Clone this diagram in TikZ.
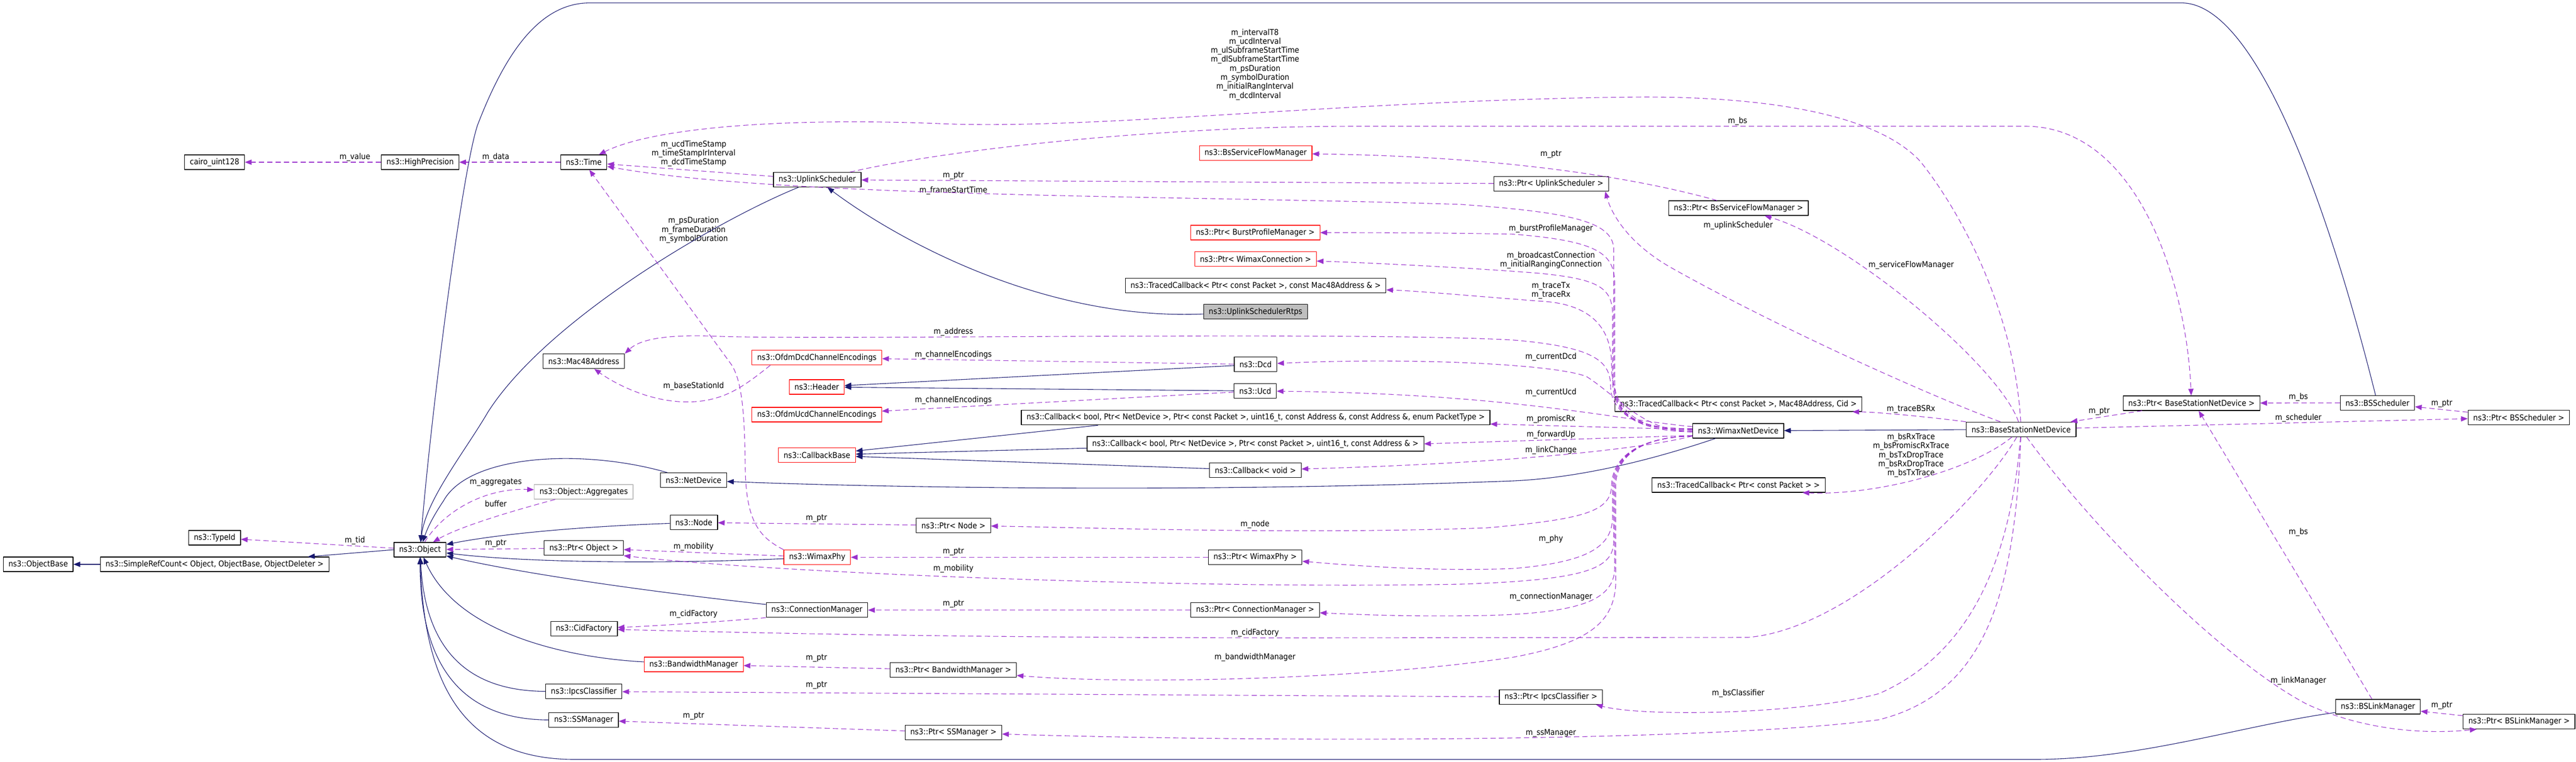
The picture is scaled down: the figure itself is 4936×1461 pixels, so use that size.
\documentclass[tikz,border=0pt]{standalone}
\usepackage{fontspec}
\setmainfont{DejaVu Sans}[FakeStretch=0.9]
\usetikzlibrary{arrows.meta}
\definecolor{dgnavy}{HTML}{191970}
\definecolor{dgpurple}{HTML}{9A32CD}
\definecolor{dgred}{HTML}{FF0000}
\definecolor{dggrey}{HTML}{BFBFBF}
\newcommand{\dgfont}{\fontsize{7.75pt}{8.65pt}\selectfont}

\begin{document}
\begin{tikzpicture}[x=0.5pt,y=-0.5pt,>={Triangle[length=6.5pt,width=5pt]},line join=bevel,
  cls/.style={draw=black,fill=white,line width=0.6pt,inner xsep=5pt,inner ysep=0pt,minimum height=14pt,font=\dgfont},
  redcls/.style={cls,draw=dgred},
  greycls/.style={cls,draw=dggrey},
  curcls/.style={cls,fill=dggrey},
  lbl/.style={font=\dgfont,inner sep=0pt,align=center},
  inh/.style={->,draw=dgnavy,line width=0.55pt},
  use/.style={->,draw=dgpurple,line width=0.55pt,dash pattern=on 5pt off 3pt}]
\useasboundingbox (0,0) rectangle (4936,1461);
%%
\node (cairo) at (411.2,311) [cls] {cairo\_uint128};
  \node (hp) at (805,311) [cls] {ns3::HighPrecision};
  \node (time) at (1118.6,311) [cls] {ns3::Time};
  \node (ulsched) at (1565.9,344.6) [cls] {ns3::UplinkScheduler};
  \node (typeid) at (411.2,1031) [cls] {ns3::TypeId};
  \node (objbase) at (73.2,1082) [cls] {ns3::ObjectBase};
  \node (refcount) at (411.2,1082) [cls] {ns3::SimpleRefCount< Object, ObjectBase, ObjectDeleter >};
  \node (object) at (804.8,1054) [cls] {ns3::Object};
  \node (mac48) at (1118.6,692.6) [cls] {ns3::Mac48Address};
  \node (dcdenc) at (1565.2,685.8) [redcls] {ns3::OfdmDcdChannelEncodings};
  \node (header) at (1565,742) [redcls] {ns3::Header};
  \node (ucdenc) at (1565,795) [redcls] {ns3::OfdmUcdChannelEncodings};
  \node (cbbase) at (1565.4,872.6) [redcls] {ns3::CallbackBase};
  \node (netdev) at (1329,920.7) [cls] {ns3::NetDevice};
  \node (aggr) at (1118.4,943) [greycls] {ns3::Object::Aggregates};
  \node (nsnode) at (1329.5,1001.8) [cls] {ns3::Node};
  \node (ptrobj) at (1118.6,1050.8) [cls] {ns3::Ptr< Object >};
  \node (phy) at (1565.9,1068.5) [redcls] {ns3::WimaxPhy};
  \node (connmgr) at (1565.4,1169.7) [cls] {ns3::ConnectionManager};
  \node (cidf) at (1119,1205.5) [cls] {ns3::CidFactory};
  \node (bwmgr) at (1329.2,1274) [redcls] {ns3::BandwidthManager};
  \node (ipcs) at (1118.7,1325.8) [cls] {ns3::IpcsClassifier};
  \node (ssmgr) at (1118.4,1380.4) [cls] {ns3::SSManager};
  \node (bsflow) at (2406,293.7) [redcls] {ns3::BsServiceFlowManager};
  \node (ptrburst) at (2405.3,446) [redcls] {ns3::Ptr< BurstProfileManager >};
  \node (ptrconn) at (2405.8,496.8) [redcls] {ns3::Ptr< WimaxConnection >};
  \node (tcmac) at (2406,547.3) [cls] {ns3::TracedCallback< Ptr< const Packet >, const Mac48Address \& >};
  \node (rtps) at (2405.8,597.8) [curcls] {ns3::UplinkSchedulerRtps};
  \node (dcd) at (2405.8,698.8) [cls] {ns3::Dcd};
  \node (ucd) at (2405.2,749.6) [cls] {ns3::Ucd};
  \node (cb1) at (2406,800.8) [cls] {ns3::Callback< bool, Ptr< NetDevice >, Ptr< const Packet >, uint16\_t, const Address \&, const Address \&, enum PacketType >};
  \node (cb2) at (2405.5,851) [cls] {ns3::Callback< bool, Ptr< NetDevice >, Ptr< const Packet >, uint16\_t, const Address \& >};
  \node (cbvoid) at (2405.5,901.6) [cls] {ns3::Callback< void >};
  \node (ptrnode) at (1826.9,1007.4) [cls] {ns3::Ptr< Node >};
  \node (ptrphy) at (2405,1068.5) [cls] {ns3::Ptr< WimaxPhy >};
  \node (ptrconnmgr) at (2405,1169.7) [cls] {ns3::Ptr< ConnectionManager >};
  \node (ptrbw) at (1826.6,1284.8) [cls] {ns3::Ptr< BandwidthManager >};
  \node (ptrss) at (1826.9,1404.6) [cls] {ns3::Ptr< SSManager >};
  \node (ptrulsched) at (2972.3,352.4) [cls] {ns3::Ptr< UplinkScheduler >};
  \node (ptrbsflow) at (3331.2,399) [cls] {ns3::Ptr< BsServiceFlowManager >};
  \node (tccid) at (3331.2,775) [cls] {ns3::TracedCallback< Ptr< const Packet >, Mac48Address, Cid >};
  \node (wnd) at (3330.7,826) [cls] {ns3::WimaxNetDevice};
  \node (tcpkt) at (3331.4,930) [cls] {ns3::TracedCallback< Ptr< const Packet > >};
  \node (ptripcs) at (2971.8,1336.5) [cls] {ns3::Ptr< IpcsClassifier >};
  \node (ptrbs) at (4199.2,773) [cls] {ns3::Ptr< BaseStationNetDevice >};
  \node (bs) at (3872.8,823.3) [cls] {ns3::BaseStationNetDevice};
  \node (bssched) at (4555.5,772.4) [cls] {ns3::BSScheduler};
  \node (ptrbssched) at (4826.3,800.4) [cls] {ns3::Ptr< BSScheduler >};
  \node (bslink) at (4556.5,1355) [cls] {ns3::BSLinkManager};
  \node (ptrbslink) at (4826.8,1383.6) [cls] {ns3::Ptr< BSLinkManager >};
%
  \node (l_value) at (680,301) [lbl] {m\_value};
  \node (l_data) at (950,301) [lbl] {m\_data};
  \node (l_tid) at (680,1036) [lbl] {m\_tid};
  \node (l_aggr) at (950,925) [lbl] {m\_aggregates};
  \node (l_buffer) at (950,966) [lbl] {buffer};
  \node (l_objptr) at (950,1042) [lbl] {m\_ptr};
  \node (l_phymob) at (1329,1048.4) [lbl] {m\_mobility};
  \node (l_ulstamp) at (1329,294.3) [lbl] {m\_ucdTimeStamp\\m\_timeStampIrInterval\\m\_dcdTimeStamp};
  \node (l_phydur) at (1329,441) [lbl] {m\_psDuration\\m\_frameDuration\\m\_symbolDuration};
  \node (l_bsid) at (1329,740) [lbl] {m\_baseStationId};
  \node (l_cmcid) at (1329,1177) [lbl] {m\_cidFactory};
  \node (l_ssptr) at (1329,1372.4) [lbl] {m\_ptr};
  \node (l_nodeptr) at (1564.5,994) [lbl] {m\_ptr};
  \node (l_bwptr) at (1564.5,1262) [lbl] {m\_ptr};
  \node (l_ipcsptr) at (1564.5,1313.7) [lbl] {m\_ptr};
  \node (l_ulptr) at (1826.8,337) [lbl] {m\_ptr};
  \node (l_frame) at (1826.8,365) [lbl] {m\_frameStartTime};
  \node (l_address) at (1826.8,636) [lbl] {m\_address};
  \node (l_dcdenc) at (1826.8,680) [lbl] {m\_channelEncodings};
  \node (l_ucdenc) at (1826.8,767.8) [lbl] {m\_channelEncodings};
  \node (l_phyptr) at (1826.8,1058) [lbl] {m\_ptr};
  \node (l_wndmob) at (1826.8,1090) [lbl] {m\_mobility};
  \node (l_cmptr) at (1826.8,1158) [lbl] {m\_ptr};
  \node (l_bstime) at (2404.7,123.5) [lbl] {m\_intervalT8\\m\_ucdInterval\\m\_ulSubframeStartTime\\m\_dlSubframeStartTime\\m\_psDuration\\m\_symbolDuration\\m\_initialRangInterval\\m\_dcdInterval};
  \node (l_node) at (2404.7,1005) [lbl] {m\_node};
  \node (l_bscid) at (2404.7,1213) [lbl] {m\_cidFactory};
  \node (l_bw) at (2404.7,1260) [lbl] {m\_bandwidthManager};
  \node (l_flowptr) at (2971.8,296) [lbl] {m\_ptr};
  \node (l_burst) at (2971.8,438) [lbl] {m\_burstProfileManager};
  \node (l_conn) at (2971.8,498.7) [lbl] {m\_broadcastConnection\\m\_initialRangingConnection};
  \node (l_trace) at (2971.8,557) [lbl] {m\_traceTx\\m\_traceRx};
  \node (l_dcd) at (2971.8,684) [lbl] {m\_currentDcd};
  \node (l_ucd) at (2971.8,752) [lbl] {m\_currentUcd};
  \node (l_promisc) at (2971.8,803.7) [lbl] {m\_promiscRx};
  \node (l_fwd) at (2971.8,833) [lbl] {m\_forwardUp};
  \node (l_link) at (2971.8,863.8) [lbl] {m\_linkChange};
  \node (l_phy) at (2971.8,1033.5) [lbl] {m\_phy};
  \node (l_cm) at (2971.8,1144) [lbl] {m\_connectionManager};
  \node (l_ss) at (2971.8,1406) [lbl] {m\_ssManager};
  \node (l_ulbs) at (3329.5,232.8) [lbl] {m\_bs};
  \node (l_ulsch) at (3330.6,432) [lbl] {m\_uplinkScheduler};
  \node (l_classif) at (3330.6,1329) [lbl] {m\_bsClassifier};
  \node (l_flow) at (3662,508) [lbl] {m\_serviceFlowManager};
  \node (l_bsrx) at (3661.8,785) [lbl] {m\_traceBSRx};
  \node (l_bstrace) at (3661.8,873) [lbl] {m\_bsRxTrace\\m\_bsPromiscRxTrace\\m\_bsTxDropTrace\\m\_bsRxDropTrace\\m\_bsTxTrace};
  \node (l_bsptr) at (4022.3,789) [lbl] {m\_ptr};
  \node (l_schbs) at (4404,761.7) [lbl] {m\_bs};
  \node (l_sched) at (4404,801) [lbl] {m\_scheduler};
  \node (l_linkbs) at (4404,1020) [lbl] {m\_bs};
  \node (l_linkmgr) at (4404,1305) [lbl] {m\_linkManager};
  \node (l_schptr) at (4678.8,774.3) [lbl] {m\_ptr};
  \node (l_linkptr) at (4678.8,1353) [lbl] {m\_ptr};
%
  \draw [inh] (refcount) -- (objbase);
  \draw [inh] (object.west) -- (refcount);
  \draw [inh] (ulsched) .. controls (1380,420) and (1050,610) .. (935,790) .. controls (890,867) and (815,960) .. (object);
  \draw [inh] (bssched) .. controls (4500,550) and (4350,5.6) .. (4180,5.6) -- (1130,5.6) .. controls (1030,5.6) and (965,110) .. (915,240) .. controls (885,330) and (825,800) .. (object);
  \draw [inh] (rtps) .. controls (2000,615) and (1720,460) .. (ulsched);
  \draw [inh] (netdev) .. controls (1120,860) and (900,870) .. (850,960) .. controls (830,990) and (820,1010) .. (object);
  \draw [inh] (nsnode) .. controls (1100,1010) and (950,1025) .. (object);
  \draw [inh] (phy) .. controls (1250,1082) and (1000,1078) .. (object);
  \draw [inh] (connmgr) .. controls (1250,1135) and (1000,1100) .. (object);
  \draw [inh] (bwmgr) .. controls (1100,1262) and (880,1220) .. (object);
  \draw [inh] (ipcs) .. controls (900,1325) and (815,1250) .. (object);
  \draw [inh] (ssmgr) .. controls (880,1380) and (805,1270) .. (object);
  \draw [inh] (bslink) .. controls (4300,1390) and (4100,1456) .. (3900,1456) -- (1100,1456) .. controls (880,1456) and (812,1300) .. (object);
  \draw [inh] (dcd) -- (header);
  \draw [inh] (ucd) -- (header);
  \draw [inh] ([xshift=73.8pt]cb1.south west) -- (cbbase);
  \draw [inh] (cb2) -- (cbbase);
  \draw [inh] (cbvoid) -- (cbbase);
  \draw [inh] (wnd) .. controls (3200,870) and (3050,915) .. (2900,922) .. controls (2300,945) and (1700,935) .. (netdev);
  \draw [inh] (bs) -- (wnd);
%
  \draw [use] (hp) -- (cairo);
  \draw [use] (time) -- (hp);
  \draw [use] (object) -- (typeid);
  \draw [use] (object) .. controls (850,980) and (930,935) .. (aggr);
  \draw [use] (aggr) .. controls (980,980) and (880,1010) .. (object);
  \draw [use] (ptrobj) -- (object);
  \draw [use] (phy) -- (ptrobj);
  \draw [use] (ulsched) -- (time);
  \draw [use] (phy.north west) .. controls (1455,1030) and (1430,1000) .. (1428,900) .. controls (1427,800) and (1423,729) .. (1400,697) -- (time);
  \draw [use] (bs) .. controls (3860,600) and (3760,410) .. (3680,310) .. controls (3600,222) and (3400,186) .. (3150,186) .. controls (2600,190) and (2100,250) .. (1800,237) .. controls (1500,225) and (1250,245) .. (time);
  \draw [use] (ulsched) .. controls (1800,290) and (2200,242) .. (2600,242) -- (3880,242) .. controls (4100,242) and (4190,550) .. (ptrbs);
  \draw [use] (ptrulsched) -- (ulsched);
  \draw [use] (bs) .. controls (3700,760) and (3400,625) .. (3200,512) .. controls (3110,460) and (3085,400) .. ([xshift=-3.5pt]ptrulsched.south east);
  \draw [use] (bs) .. controls (3830,700) and (3540,460) .. (ptrbsflow);
  \draw [use] ([xshift=-20.6pt]ptrbsflow.north) .. controls (3150,345) and (2900,300) .. (bsflow);
  \draw [use] (bs.north west) .. controls (3700,800) and (3600,790) .. ([xshift=-9.5pt]tccid.south east);
  \draw [use] (bs) .. controls (3780,900) and (3600,950) .. ([xshift=-22pt]tcpkt.south east);
  \draw [use] (bs) .. controls (3800,950) and (3550,1205) .. (3350,1222) -- (2500,1223) .. controls (1800,1223) and (1400,1212) .. (cidf);
  \draw [use] (bs) .. controls (3850,1100) and (3760,1260) .. (3600,1330) .. controls (3450,1370) and (3150,1375) .. ([xshift=-6.6pt]ptripcs.south east);
  \draw [use] (bs) .. controls (3860,1150) and (3800,1330) .. (3600,1380) .. controls (3300,1420) and (2500,1425) .. (ptrss);
  \draw [use] (bs) .. controls (4000,1000) and (4250,1260) .. (4420,1350) .. controls (4550,1410) and (4680,1405) .. ([xshift=13.25pt]ptrbslink.south west);
  \draw [use] (ptrbs) -- (bs);
  \draw [use] (bs) -- (ptrbssched);
  \draw [use] (bssched) -- (ptrbs);
  \draw [use] (ptrbssched) -- (bssched);
  \draw [use] (ptrbslink) -- (bslink);
  \draw [use] ([xshift=-5.75pt]bslink.north) -- ([xshift=6.9pt]ptrbs.south);
  \draw [use] (dcd) -- (dcdenc);
  \draw [use] (ucd) -- (ucdenc);
  \draw [use] ([xshift=-44.6pt]dcdenc.south) .. controls (1420,745) and (1380,775) .. (1300,770) .. controls (1230,765) and (1170,730) .. (mac48);
  \draw [use] (connmgr.south west) .. controls (1380,1192) and (1260,1200) .. (cidf);
  \draw [use] (ptrconnmgr) -- (connmgr);
  \draw [use] (ptrbw) -- (bwmgr);
  \draw [use] (ptripcs) -- (ipcs);
  \draw [use] (ptrss) -- (ssmgr);
  \draw [use] (ptrnode) -- (nsnode);
  \draw [use] (ptrphy) -- (phy);
% members of WimaxNetDevice
  \draw [use] ([yshift=2pt]wnd.west) .. controls (3140,822) and (3092,800) .. (3092,730) -- (3092,475) .. controls (3088,425) and (3010,407) .. (2800,392) .. controls (2300,375) and (1500,380) .. (time);
  \draw [use] ([yshift=2pt]wnd.west) .. controls (3140,822) and (3094,800) .. (3094,730) -- (3094,540) .. controls (3092,485) and (3060,462) .. (2900,449) .. controls (2750,446) and (2600,446) .. (ptrburst);
  \draw [use] ([yshift=1pt]wnd.west) .. controls (3140,824) and (3090,800) .. (3090,730) -- (3090,600) .. controls (3088,550) and (3060,535) .. (2950,524) .. controls (2800,512) and (2600,503) .. (ptrconn);
  \draw [use] (wnd.west) .. controls (3140,826) and (3088,790) .. (3088,700) .. controls (3088,630) and (3050,585) .. (2960,578) .. controls (2850,570) and (2720,558) .. (tcmac);
  \draw [use] ([yshift=-1pt]wnd.west) .. controls (3140,828) and (3086,790) .. (3086,740) .. controls (3086,690) and (3050,665) .. (2900,652) .. controls (2600,635) and (1600,652) .. (1380,645) .. controls (1270,640) and (1225,652) .. (mac48.north east);
  \draw [use] ([yshift=-1pt]wnd.west) .. controls (3150,828) and (3100,760) .. (3040,722) .. controls (2980,698) and (2700,685) .. (dcd);
  \draw [use] (wnd) .. controls (3100,805) and (2900,755) .. (ucd);
  \draw [use] (wnd) -- (cb1);
  \draw [use] ([yshift=-4.5pt]wnd.west) -- (cb2.east);
  \draw [use] ([yshift=-5pt]wnd.west) .. controls (3150,860) and (2900,888) .. (cbvoid);
  \draw [use] ([yshift=-5pt]wnd.west) .. controls (3150,838) and (3090,870) .. (3088,930) .. controls (3087,980) and (3040,995) .. (2850,1012) .. controls (2500,1025) and (2100,1012) .. (ptrnode);
  \draw [use] ([yshift=-5pt]wnd.west) .. controls (3150,838) and (3092,870) .. (3090,930) -- (3090,990) .. controls (3090,1050) and (3040,1078) .. (2900,1090) .. controls (2750,1096) and (2600,1085) .. (ptrphy);
  \draw [use] ([yshift=-5pt]wnd.west) .. controls (3150,838) and (3094,870) .. (3092,930) -- (3092,1040) .. controls (3090,1090) and (3040,1112) .. (2800,1120) .. controls (2300,1130) and (1500,1100) .. (ptrobj.south east);
  \draw [use] ([yshift=-5pt]wnd.west) .. controls (3150,838) and (3096,870) .. (3094,930) -- (3094,1090) .. controls (3092,1150) and (3030,1175) .. (2850,1180) .. controls (2700,1183) and (2600,1178) .. (ptrconnmgr);
  \draw [use] ([yshift=-5pt]wnd.west) .. controls (3150,838) and (3098,870) .. (3096,930) -- (3096,1120) .. controls (3092,1190) and (3050,1232) .. (2900,1260) .. controls (2600,1305) and (2150,1312) .. (ptrbw);
%
\end{tikzpicture}
\end{document}
